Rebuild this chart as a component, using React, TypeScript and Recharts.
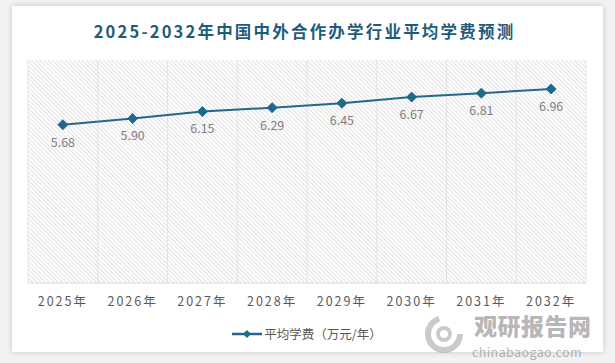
import { LineChart, Line, XAxis, YAxis, CartesianGrid, LabelList, Legend } from "recharts";

const years = ["2025年", "2026年", "2027年", "2028年", "2029年", "2030年", "2031年", "2032年"];
const fees = [5.68, 5.9, 6.15, 6.29, 6.45, 6.67, 6.81, 6.96];
const gridTicks = [1, 2, 3, 4, 5, 6, 7];
const seriesName = "平均学费（万元/年）";

const data = years.map((year, i) => ({ year, fee: fees[i], pos: i + 0.5 }));

const LINE = "#1f6a8a";

const Diamond = (props: any) => {
  const { cx, cy } = props;
  if (cx == null || cy == null) return null;
  const r = 5;
  return (
    <path
      d={`M${cx},${cy - r}L${cx + r},${cy}L${cx},${cy + r}L${cx - r},${cy}Z`}
      fill={LINE}
      stroke={LINE}
    />
  );
};

const LegendContent = () => (
  <div
    style={{
      display: "flex",
      alignItems: "center",
      justifyContent: "center",
      paddingTop: 11,
      fontSize: 12.5,
      color: "#595959",
      fontFamily: "'Noto Sans CJK SC', sans-serif",
    }}
  >
    <svg width={30} height={10} style={{ marginRight: 2 }}>
      <line x1={0} y1={5} x2={30} y2={5} stroke={LINE} strokeWidth={2.5} />
      <path d="M15,1L19,5L15,9L11,5Z" fill={LINE} />
    </svg>
    {seriesName}
  </div>
);

export default function App() {
  return (
    <div
      style={{
        position: "fixed",
        left: 0,
        top: 0,
        width: 615,
        height: 363,
        background: "#f2f2f2",
        fontFamily: "'Noto Sans CJK SC', sans-serif",
        overflow: "hidden",
      }}
    >
      <div
        style={{
          position: "absolute",
          left: 12,
          top: 6,
          width: 591,
          height: 346,
          background: "#fff",
          boxShadow: "0 0 6px rgba(0,0,0,0.18)",
        }}
      />
      <div
        style={{
          position: "absolute",
          left: 0,
          top: 19,
          width: 609,
          textAlign: "center",
          fontSize: 16.5,
          fontWeight: 700,
          color: "#1e5c7c",
          letterSpacing: 2.2,
        }}
      >
        2025-2032年中国中外合作办学行业平均学费预测
      </div>
      <div style={{ position: "absolute", left: 0, top: 0 }}>
        <LineChart
          width={615}
          height={363}
          data={data}
          margin={{ top: 60, right: 29, left: 28, bottom: 20 }}
        >
          <defs>
            <pattern
              id="hatch"
              width={3}
              height={3}
              patternUnits="userSpaceOnUse"
              patternTransform="rotate(-45)"
            >
              <rect width={3} height={3} fill="#ffffff" />
              <line x1={0} y1={0} x2={0} y2={3} stroke="#cdcdcd" strokeWidth={1.2} />
            </pattern>
          </defs>
          <CartesianGrid
            xAxisId="grid"
            horizontal={false}
            stroke="#e3e3e3"
            fill="url(#hatch)"
            fillOpacity={1}
          />
          <XAxis
            dataKey="year"
            scale="band"
            axisLine={{ stroke: "#d9d9d9" }}
            tickLine={false}
            tick={{ fontSize: 12.5, fill: "#595959", letterSpacing: 2 }}
            tickMargin={8}
            height={30}
          />
          <XAxis
            xAxisId="grid"
            dataKey="pos"
            type="number"
            domain={[0, 8]}
            ticks={gridTicks}
            hide
          />
          <YAxis domain={[0, 8]} hide />
          <Legend verticalAlign="bottom" height={30} content={<LegendContent />} />
          <Line
            type="linear"
            dataKey="fee"
            name={seriesName}
            stroke={LINE}
            strokeWidth={2}
            dot={<Diamond />}
            activeDot={false}
            isAnimationActive={false}
          >
            <LabelList
              dataKey="fee"
              position="bottom"
              offset={13}
              formatter={(v: number) => v.toFixed(2)}
              style={{ fontSize: 12.5, fill: "#7f7f7f" }}
            />
          </Line>
        </LineChart>
      </div>
      <svg
        width={52}
        height={44}
        style={{ position: "absolute", left: 420, top: 312 }}
      >
        <circle cx={24} cy={22} r={16} fill="none" stroke="rgba(150,150,150,0.5)" strokeWidth={6} strokeDasharray="70 30" />
        <circle cx={24} cy={22} r={6} fill="none" stroke="rgba(150,150,150,0.5)" strokeWidth={4} />
      </svg>
      <div
        style={{
          position: "absolute",
          left: 474,
          top: 312,
          fontSize: 23,
          lineHeight: "27px",
          fontWeight: 900,
          color: "rgba(120,120,120,0.55)",
          letterSpacing: 0.5,
        }}
      >
        观研报告网
      </div>
      <div
        style={{
          position: "absolute",
          left: 472,
          top: 345,
          fontSize: 12.5,
          lineHeight: "14px",
          color: "rgba(120,120,120,0.55)",
          letterSpacing: 0.4,
        }}
      >
        chinabaogao.com
      </div>
    </div>
  );
}
